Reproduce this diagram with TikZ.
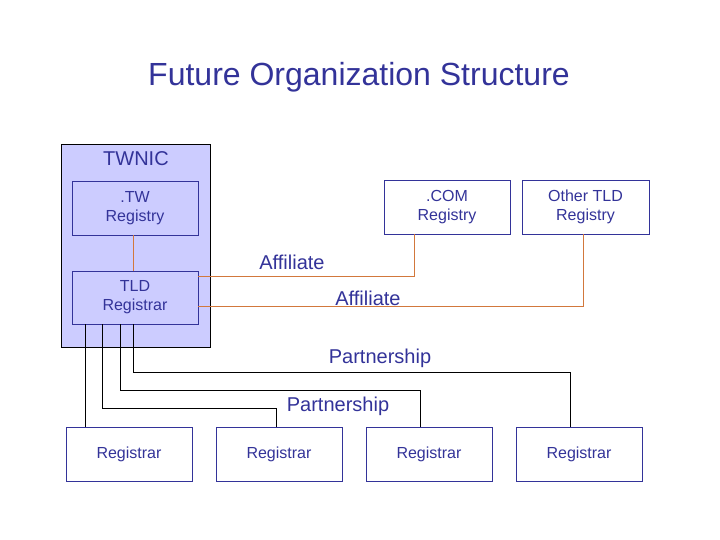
\documentclass[tikz,border=0pt]{standalone}
\usepackage{fontspec}
\setmainfont{Liberation Sans}
\definecolor{tblue}{RGB}{51,51,153}
\definecolor{lav}{RGB}{204,204,255}
\definecolor{orl}{RGB}{210,120,60}
\begin{document}
\begin{tikzpicture}[x=1pt,y=1pt,
  box/.style={draw=tblue, line width=0.6pt, minimum width=126pt, minimum height=54pt, inner sep=0pt, align=center, text=tblue, font=\fontsize{16}{19}\selectfont},
  lbl/.style={text=tblue, font=\fontsize{20}{22}\selectfont, inner sep=0pt},
  aff/.style={draw=orl, line width=1pt},
  part/.style={draw=black, line width=0.8pt}]
\useasboundingbox (0,0) rectangle (720,-540);
\fill[white] (0,0) rectangle (720,-540);
\node[text=tblue, font=\fontsize{32}{36}\selectfont] (title) at (359,-77) {Future Organization Structure};
\node[draw=black, line width=0.8pt, fill=lav, minimum width=149pt, minimum height=203pt, inner sep=0pt] (twnic) at (135.5,-245.5) {};
\node[lbl, anchor=west] (twniclbl) at (103,-159) {TWNIC};
\node[box, fill=lav] (tw) at (135,-208) {.TW\\Registry};
\node[box, fill=lav, minimum height=53pt] (tld) at (135,-297.5) {TLD\\Registrar};
\node[box] (com) at (447,-207) {.COM\\Registry};
\node[box, minimum width=127pt] (oth) at (585.5,-207) {Other TLD\\Registry};
\node[box] (r1) at (129,-454) {Registrar};
\node[box] (r2) at (279,-454) {Registrar};
\node[box] (r3) at (429,-454) {Registrar};
\node[box] (r4) at (579,-454) {Registrar};
\node[lbl] (aff1) at (292,-262) {Affiliate};
\node[lbl] (aff2) at (368,-298) {Affiliate};
\node[lbl] (par1) at (380,-358) {Partnership};
\node[lbl] (par2) at (338,-406) {Partnership};
% orange connectors
\draw[aff] ([xshift=-2pt]tw.south) -- ([xshift=-2pt]tld.north);
\draw[aff] ([yshift=21.5pt]tld.east) -| ([xshift=-33pt]com.south);
\draw[aff] ([yshift=-8.5pt]tld.east) -| ([xshift=-2.5pt]oth.south);
% black connectors
\draw[part] ([xshift=-50pt]tld.south) -- ([xshift=-50pt]tld.south |- r1.north);
\draw[part] ([xshift=-33pt]tld.south) -- ++(0,-84) -| ([xshift=-3pt]r2.north);
\draw[part] ([xshift=-15pt]tld.south) -- ++(0,-66) -| ([xshift=-9pt]r3.north);
\draw[part] ([xshift=-2pt]tld.south) -- ++(0,-48) -| ([xshift=-9pt]r4.north);
\end{tikzpicture}
\end{document}
